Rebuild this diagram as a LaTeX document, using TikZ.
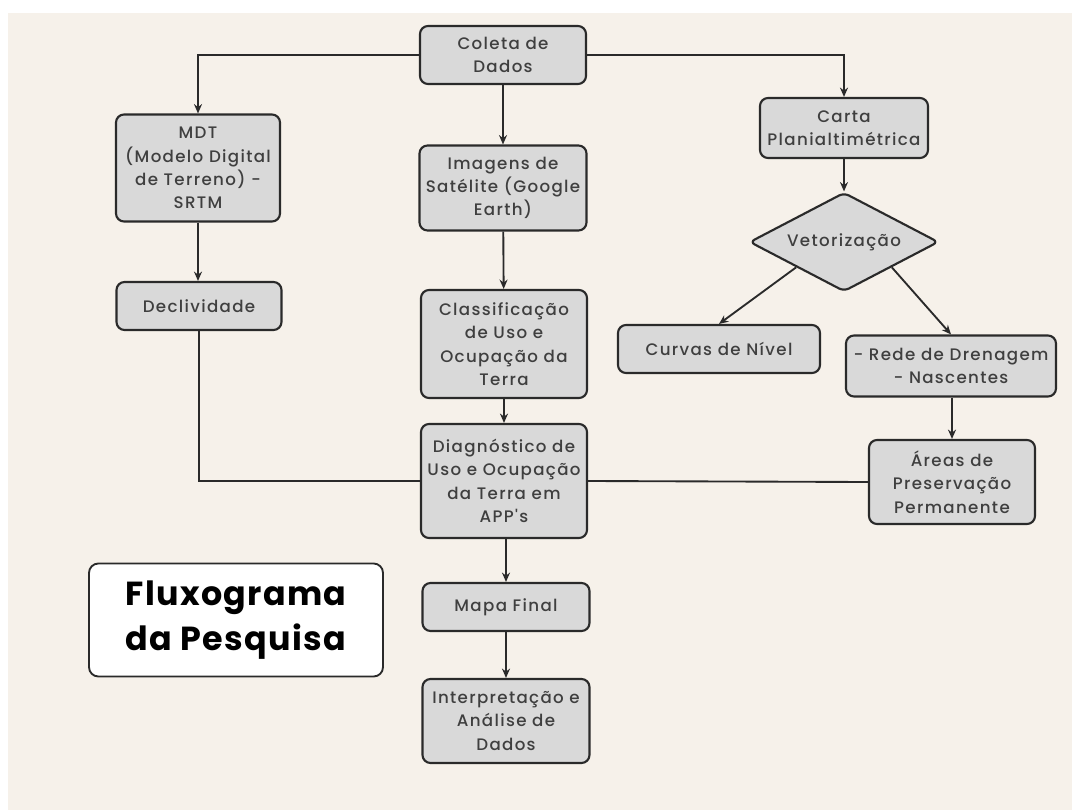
\documentclass[tikz,border=0pt]{standalone}
\usepackage{fontspec}
\setmainfont{Poppins}
\newfontfamily\boxfont[LetterSpace=8]{Poppins Medium}
\newfontfamily\headfont[LetterSpace=4]{Poppins}
\usetikzlibrary{shapes.geometric,arrows.meta}
\definecolor{paperbg}{HTML}{F6F1EA}
\definecolor{boxgray}{HTML}{D9D9D9}
\definecolor{inkgray}{HTML}{2A2A2A}

\begin{document}
\begin{tikzpicture}[x=0.75pt,y=-0.75pt,
	stepbox/.style={draw=inkgray,fill=boxgray,rounded corners=6pt,line width=1.6pt,align=center,inner sep=2pt,text=inkgray!90,font=\boxfont\fontsize{12.5}{17.5}\selectfont},
	boxsize/.style 2 args={minimum width=#1*0.75pt,minimum height=#2*0.75pt},
	decisionbox/.style={stepbox,diamond,aspect=1.9,inner sep=0pt,rounded corners=4pt},
	titlebox/.style={draw=inkgray,fill=white,rounded corners=7pt,line width=1.4pt,align=center,font=\headfont\fontsize{25}{34}\selectfont\bfseries},
	link/.style={draw=inkgray,line width=1.4pt},
	flow/.style={link,-{Stealth[length=7pt,width=6pt]}}]
	% background
	\fill[white] (0,0) rectangle (1072,810);
	\fill[paperbg] (8,13) rectangle (1072,810);
	% middle column
	\node[stepbox,boxsize={166}{58}] (coleta) at (503,55) {Coleta de\\Dados};
	\node[stepbox,boxsize={167}{85}] (imagens) at (503,188) {Imagens de\\Satélite (Google\\Earth)};
	\node[stepbox,boxsize={166}{108}] (classif) at (504,344) {Classificação\\de Uso e\\Ocupação da\\Terra};
	\node[stepbox,boxsize={166}{114}] (diag) at (504,481) {Diagnóstico de\\Uso e Ocupação\\da Terra em\\APP's};
	\node[stepbox,boxsize={167}{48}] (mapa) at (506,607) {Mapa Final};
	\node[stepbox,boxsize={167}{84}] (interp) at (506,721) {Interpretação e\\Análise de\\Dados};
	% left column
	\node[stepbox,boxsize={164}{107}] (mdt) at (198,168) {MDT\\(Modelo Digital\\de Terreno) -\\SRTM};
	\node[stepbox,boxsize={165}{48}] (decliv) at (199,306) {Declividade};
	% right column
	\node[stepbox,boxsize={168}{60}] (carta) at (844,128) {Carta\\Planialtimétrica};
	\node[decisionbox,boxsize={189}{99}] (vetor) at (844,242) {Vetorização};
	\node[stepbox,boxsize={202}{48}] (curvas) at (719,349) {Curvas de Nível};
	\node[stepbox,boxsize={210}{61}] (rede) at (951,366) {- Rede de Drenagem\\- Nascentes};
	\node[stepbox,boxsize={166}{84}] (areas) at (952,482) {Áreas de\\Preservação\\Permanente};
	% title
	\node[titlebox,boxsize={294}{113}] (titulo) at (236,620) {Fluxograma\\da Pesquisa};
	% connectors
	\draw[flow] (coleta.west) -| (mdt.north);
	\draw[flow] (coleta.east) -| (carta.north);
	\draw[flow] (coleta) -- (imagens);
	\draw[flow] (imagens) -- (classif);
	\draw[flow] (classif) -- (diag);
	\draw[flow] (mapa.north |- diag.south) -- (mapa.north);
	\draw[flow] (mapa) -- (interp);
	\draw[flow] (mdt.south) -- (mdt.south |- decliv.north);
	\draw[link] (decliv.south) |- (diag.west);
	\draw[flow] (carta) -- (vetor);
	\draw[flow] (vetor.south west) -- (curvas.north);
	\draw[flow] (vetor.south east) -- (rede.north);
	\draw[flow] (rede.south -| areas.north) -- (areas.north);
	\draw[link] (areas.west) -- (diag.east);
\end{tikzpicture}
\end{document}
